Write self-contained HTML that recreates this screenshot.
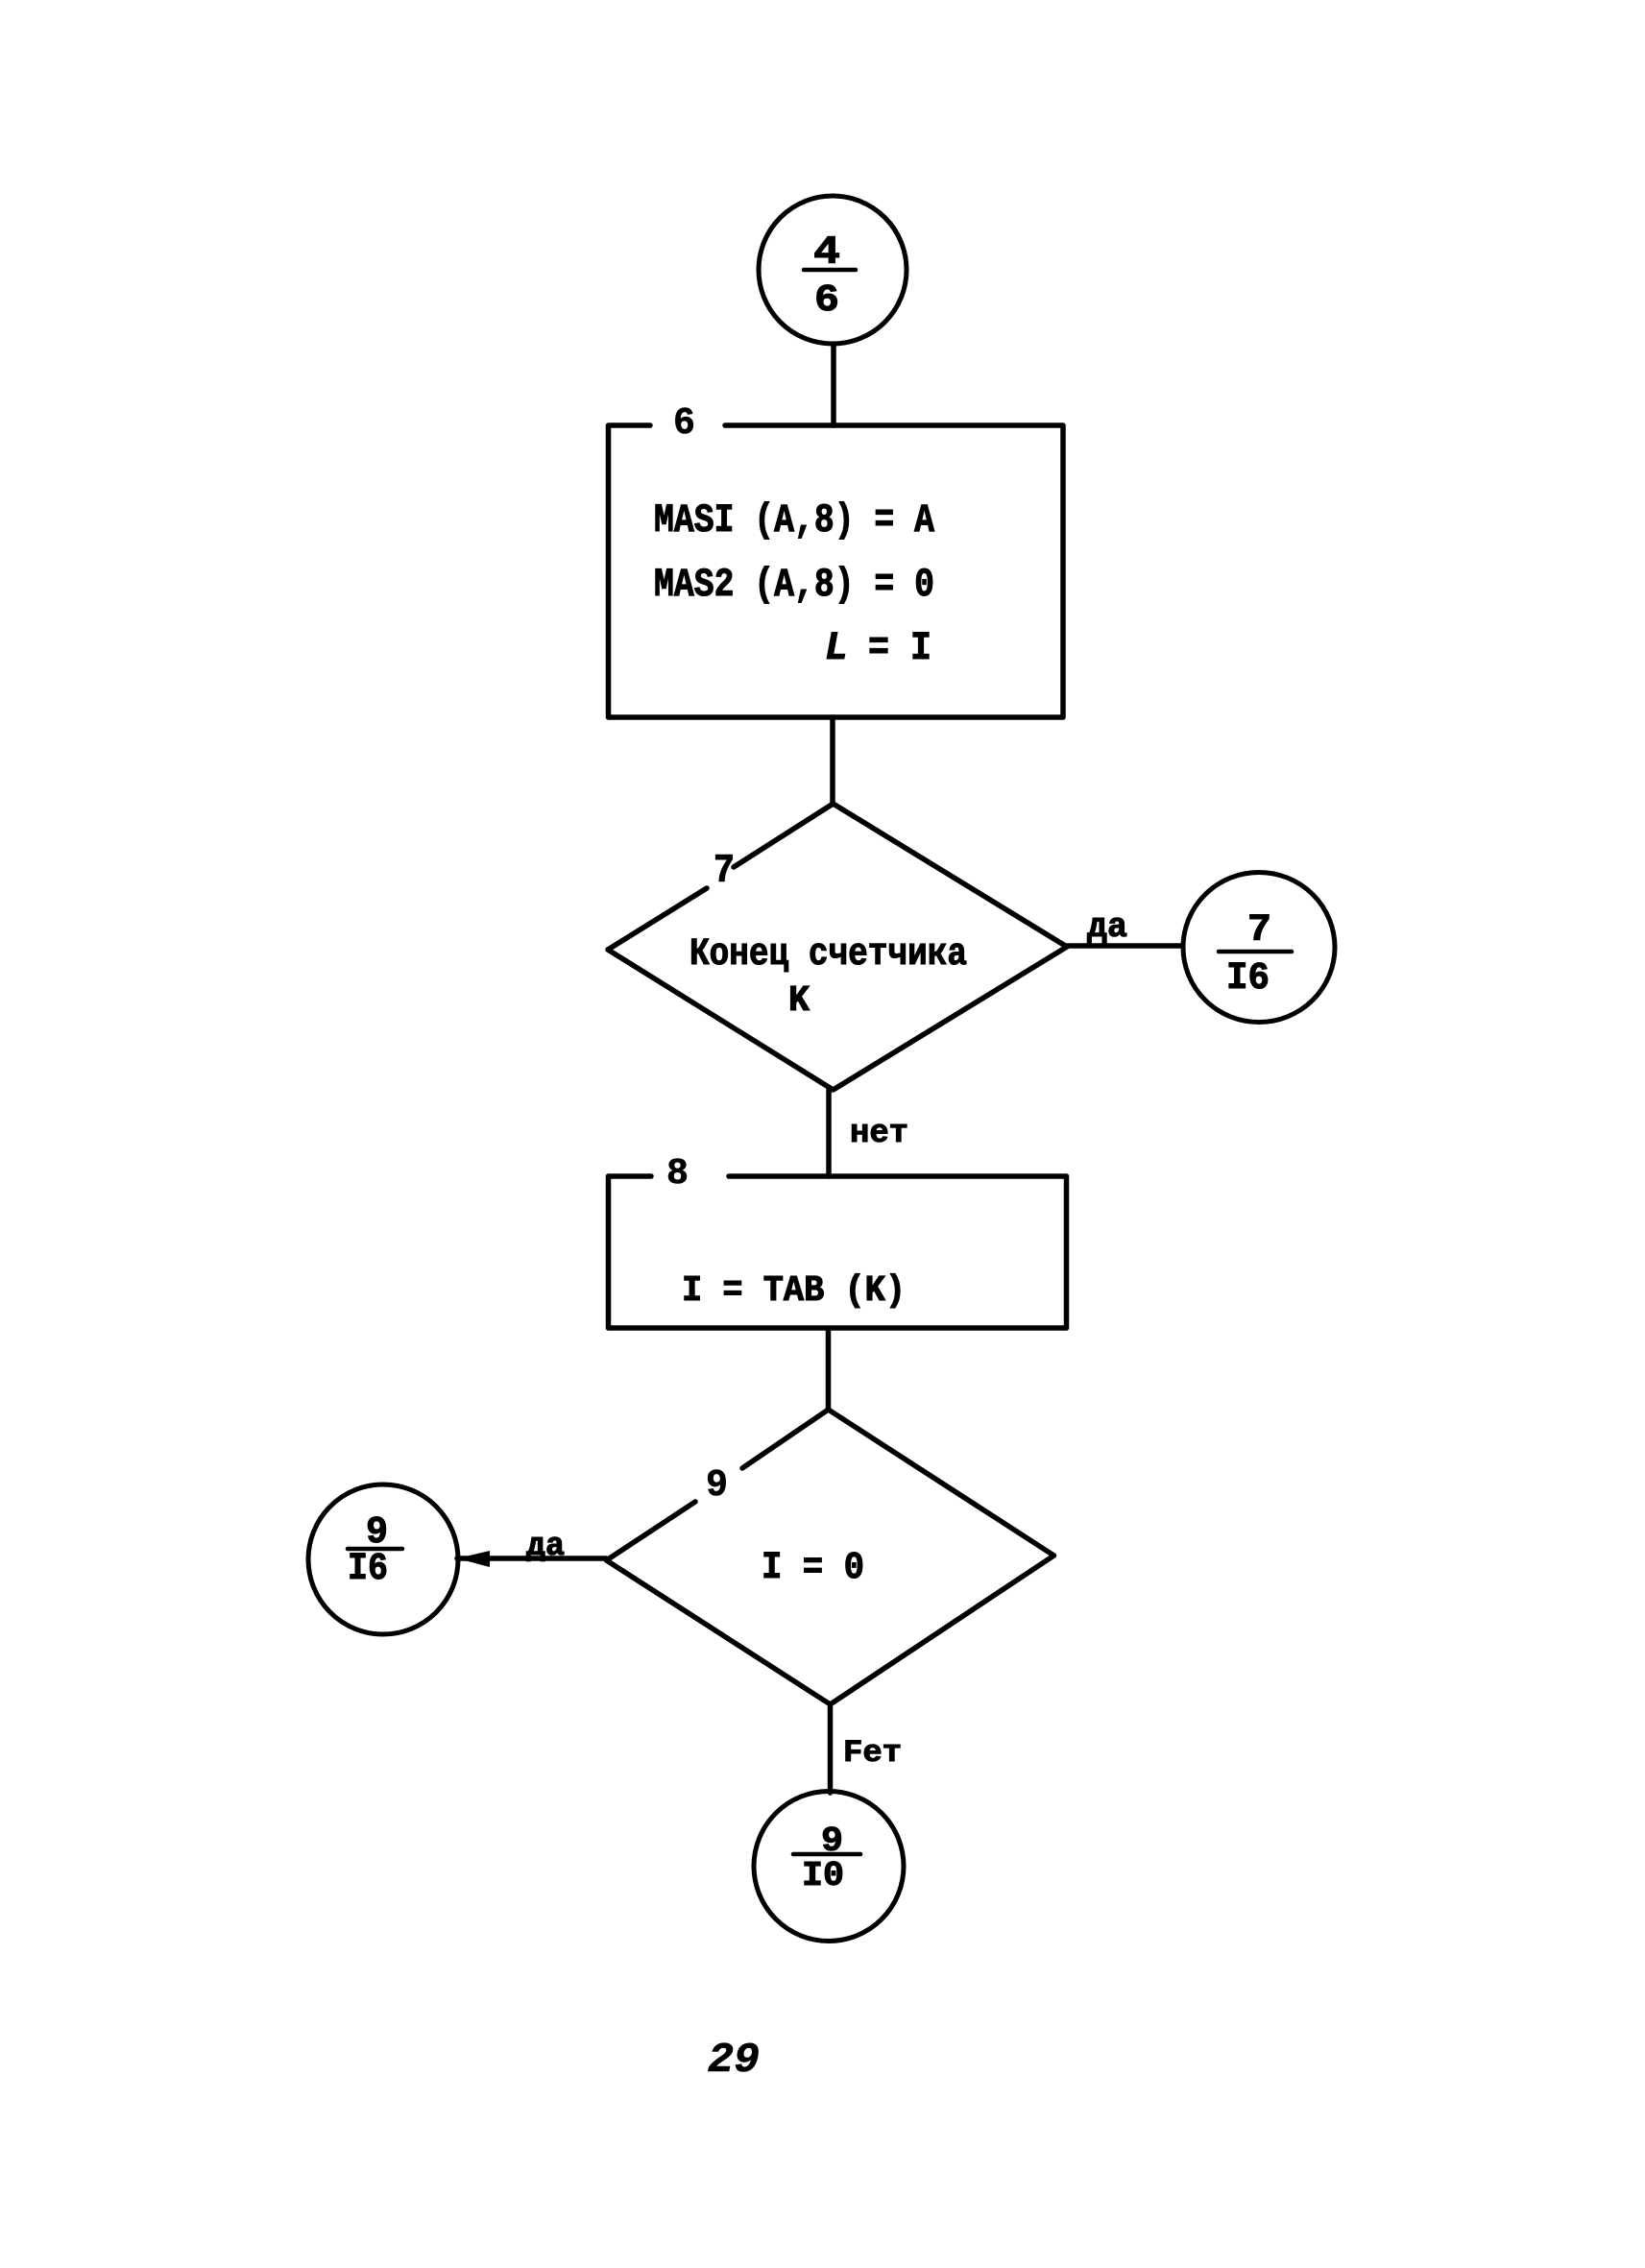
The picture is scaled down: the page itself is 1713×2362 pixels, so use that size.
<!DOCTYPE html>
<html lang="ru">
<head>
<meta charset="utf-8">
<title>Блок-схема</title>
<style>
html,body{margin:0;padding:0;background:#fff;width:1713px;height:2362px;overflow:hidden}
svg{display:block}
text{font-family:"Liberation Mono","DejaVu Sans Mono",monospace;font-weight:bold;fill:#000;stroke:#000;stroke-width:1.1}
.n{stroke-width:.6}
.l{fill:none;stroke:#000;stroke-width:5.5;stroke-linejoin:round;stroke-linecap:round}
.c{fill:none;stroke:#000;stroke-width:5}
.t{fill:none;stroke:#000;stroke-width:4.5;stroke-linecap:round}
</style>
</head>
<body>
<svg width="1713" height="2362" viewBox="0 0 1713 2362" xmlns="http://www.w3.org/2000/svg">
<rect width="1713" height="2362" fill="#fff"/>
<g transform="translate(2,2)">

<!-- Connector 4/6 -->
<circle class="c" cx="865" cy="279" r="77"/>
<line class="t" x1="835" y1="279" x2="889" y2="279"/>
<text x="845" y="272" font-size="42" textLength="28" lengthAdjust="spacingAndGlyphs">4</text>
<text x="846" y="321" font-size="40" textLength="26" lengthAdjust="spacingAndGlyphs">6</text>
<line class="l" x1="866" y1="356" x2="866" y2="441"/>

<!-- Block 6 -->
<path class="l" d="M675 441H631.500V745H1105V441H753"/>
<text class="n" x="699" y="449" font-size="40" textLength="23" lengthAdjust="spacingAndGlyphs">6</text>
<text x="679" y="551" font-size="42" textLength="292" lengthAdjust="spacingAndGlyphs">MASI (A,8) = A</text>
<text x="679" y="618" font-size="42" textLength="292" lengthAdjust="spacingAndGlyphs">MAS2 (A,8) = 0</text>
<text x="857" y="684" font-size="42" font-style="italic" textLength="24" lengthAdjust="spacingAndGlyphs">L</text>
<text x="902" y="684" font-size="42" textLength="66" lengthAdjust="spacingAndGlyphs">= I</text>
<line class="l" x1="865" y1="745" x2="865" y2="835"/>

<!-- Decision 7 -->
<path class="l" d="M734 923L631 987L865.500 1133L1109 984L865.500 835L762 901"/>
<text x="741" y="916" font-size="42" textLength="22" lengthAdjust="spacingAndGlyphs">7</text>
<text x="716" y="1002" font-size="40" textLength="289" lengthAdjust="spacingAndGlyphs">Конец счетчика</text>
<text x="819" y="1050" font-size="38" textLength="22" lengthAdjust="spacingAndGlyphs">K</text>
<line class="l" x1="1109" y1="983" x2="1229" y2="983"/>
<text x="1130" y="973" font-size="36" textLength="42" lengthAdjust="spacingAndGlyphs">да</text>

<!-- Connector 7/16 -->
<ellipse class="c" cx="1309" cy="984.500" rx="79" ry="78"/>
<line class="t" x1="1267" y1="989" x2="1343" y2="989"/>
<text x="1297" y="977" font-size="40" textLength="25" lengthAdjust="spacingAndGlyphs">7</text>
<text x="1275" y="1027" font-size="40" textLength="45" lengthAdjust="spacingAndGlyphs">I6</text>

<line class="l" x1="861" y1="1133" x2="861" y2="1223"/>
<text x="883" y="1187" font-size="34" textLength="61" lengthAdjust="spacingAndGlyphs">нет</text>

<!-- Block 8 -->
<path class="l" d="M676 1223H631.500V1381H1108.500V1223H757"/>
<text class="n" x="692" y="1230" font-size="38" textLength="23" lengthAdjust="spacingAndGlyphs">8</text>
<text x="708" y="1352" font-size="38" textLength="233" lengthAdjust="spacingAndGlyphs">I = TAB (K)</text>
<line class="l" x1="860.500" y1="1381" x2="860.500" y2="1466"/>

<!-- Decision 9 -->
<path class="l" d="M722 1562L629.500 1623L862.500 1773L1095.500 1618L860.500 1466L771 1527"/>
<text class="n" x="733" y="1555" font-size="40" textLength="23" lengthAdjust="spacingAndGlyphs">9</text>
<text x="791" y="1641" font-size="40" textLength="107" lengthAdjust="spacingAndGlyphs">I = 0</text>

<line class="l" x1="629.500" y1="1621" x2="474" y2="1621"/>
<polygon points="474,1621 508,1613 508,1630" fill="#000"/>
<text x="546" y="1617" font-size="34" textLength="40" lengthAdjust="spacingAndGlyphs">да</text>

<!-- Connector 9/16 -->
<circle class="c" cx="397" cy="1622" r="78"/>
<line class="t" x1="360" y1="1611" x2="417" y2="1611"/>
<text x="379" y="1604" font-size="40" textLength="23" lengthAdjust="spacingAndGlyphs">9</text>
<text x="360" y="1642" font-size="40" textLength="42" lengthAdjust="spacingAndGlyphs">I6</text>

<line class="l" x1="862.500" y1="1773" x2="862.500" y2="1865"/>
<text x="876" y="1832" font-size="32" textLength="61" lengthAdjust="spacingAndGlyphs">Fет</text>

<!-- Connector 9/10 -->
<circle class="c" cx="861" cy="1941.500" r="78"/>
<text x="853" y="1925" font-size="36" textLength="23" lengthAdjust="spacingAndGlyphs">9</text>
<line class="t" x1="824" y1="1929" x2="894" y2="1929"/>
<text x="833" y="1961" font-size="36" textLength="44" lengthAdjust="spacingAndGlyphs">I0</text>

<!-- Page number -->
<text class="n" x="735" y="2155" font-size="44" font-style="italic" textLength="54" lengthAdjust="spacingAndGlyphs">29</text>
</g>
</svg>
</body>
</html>
